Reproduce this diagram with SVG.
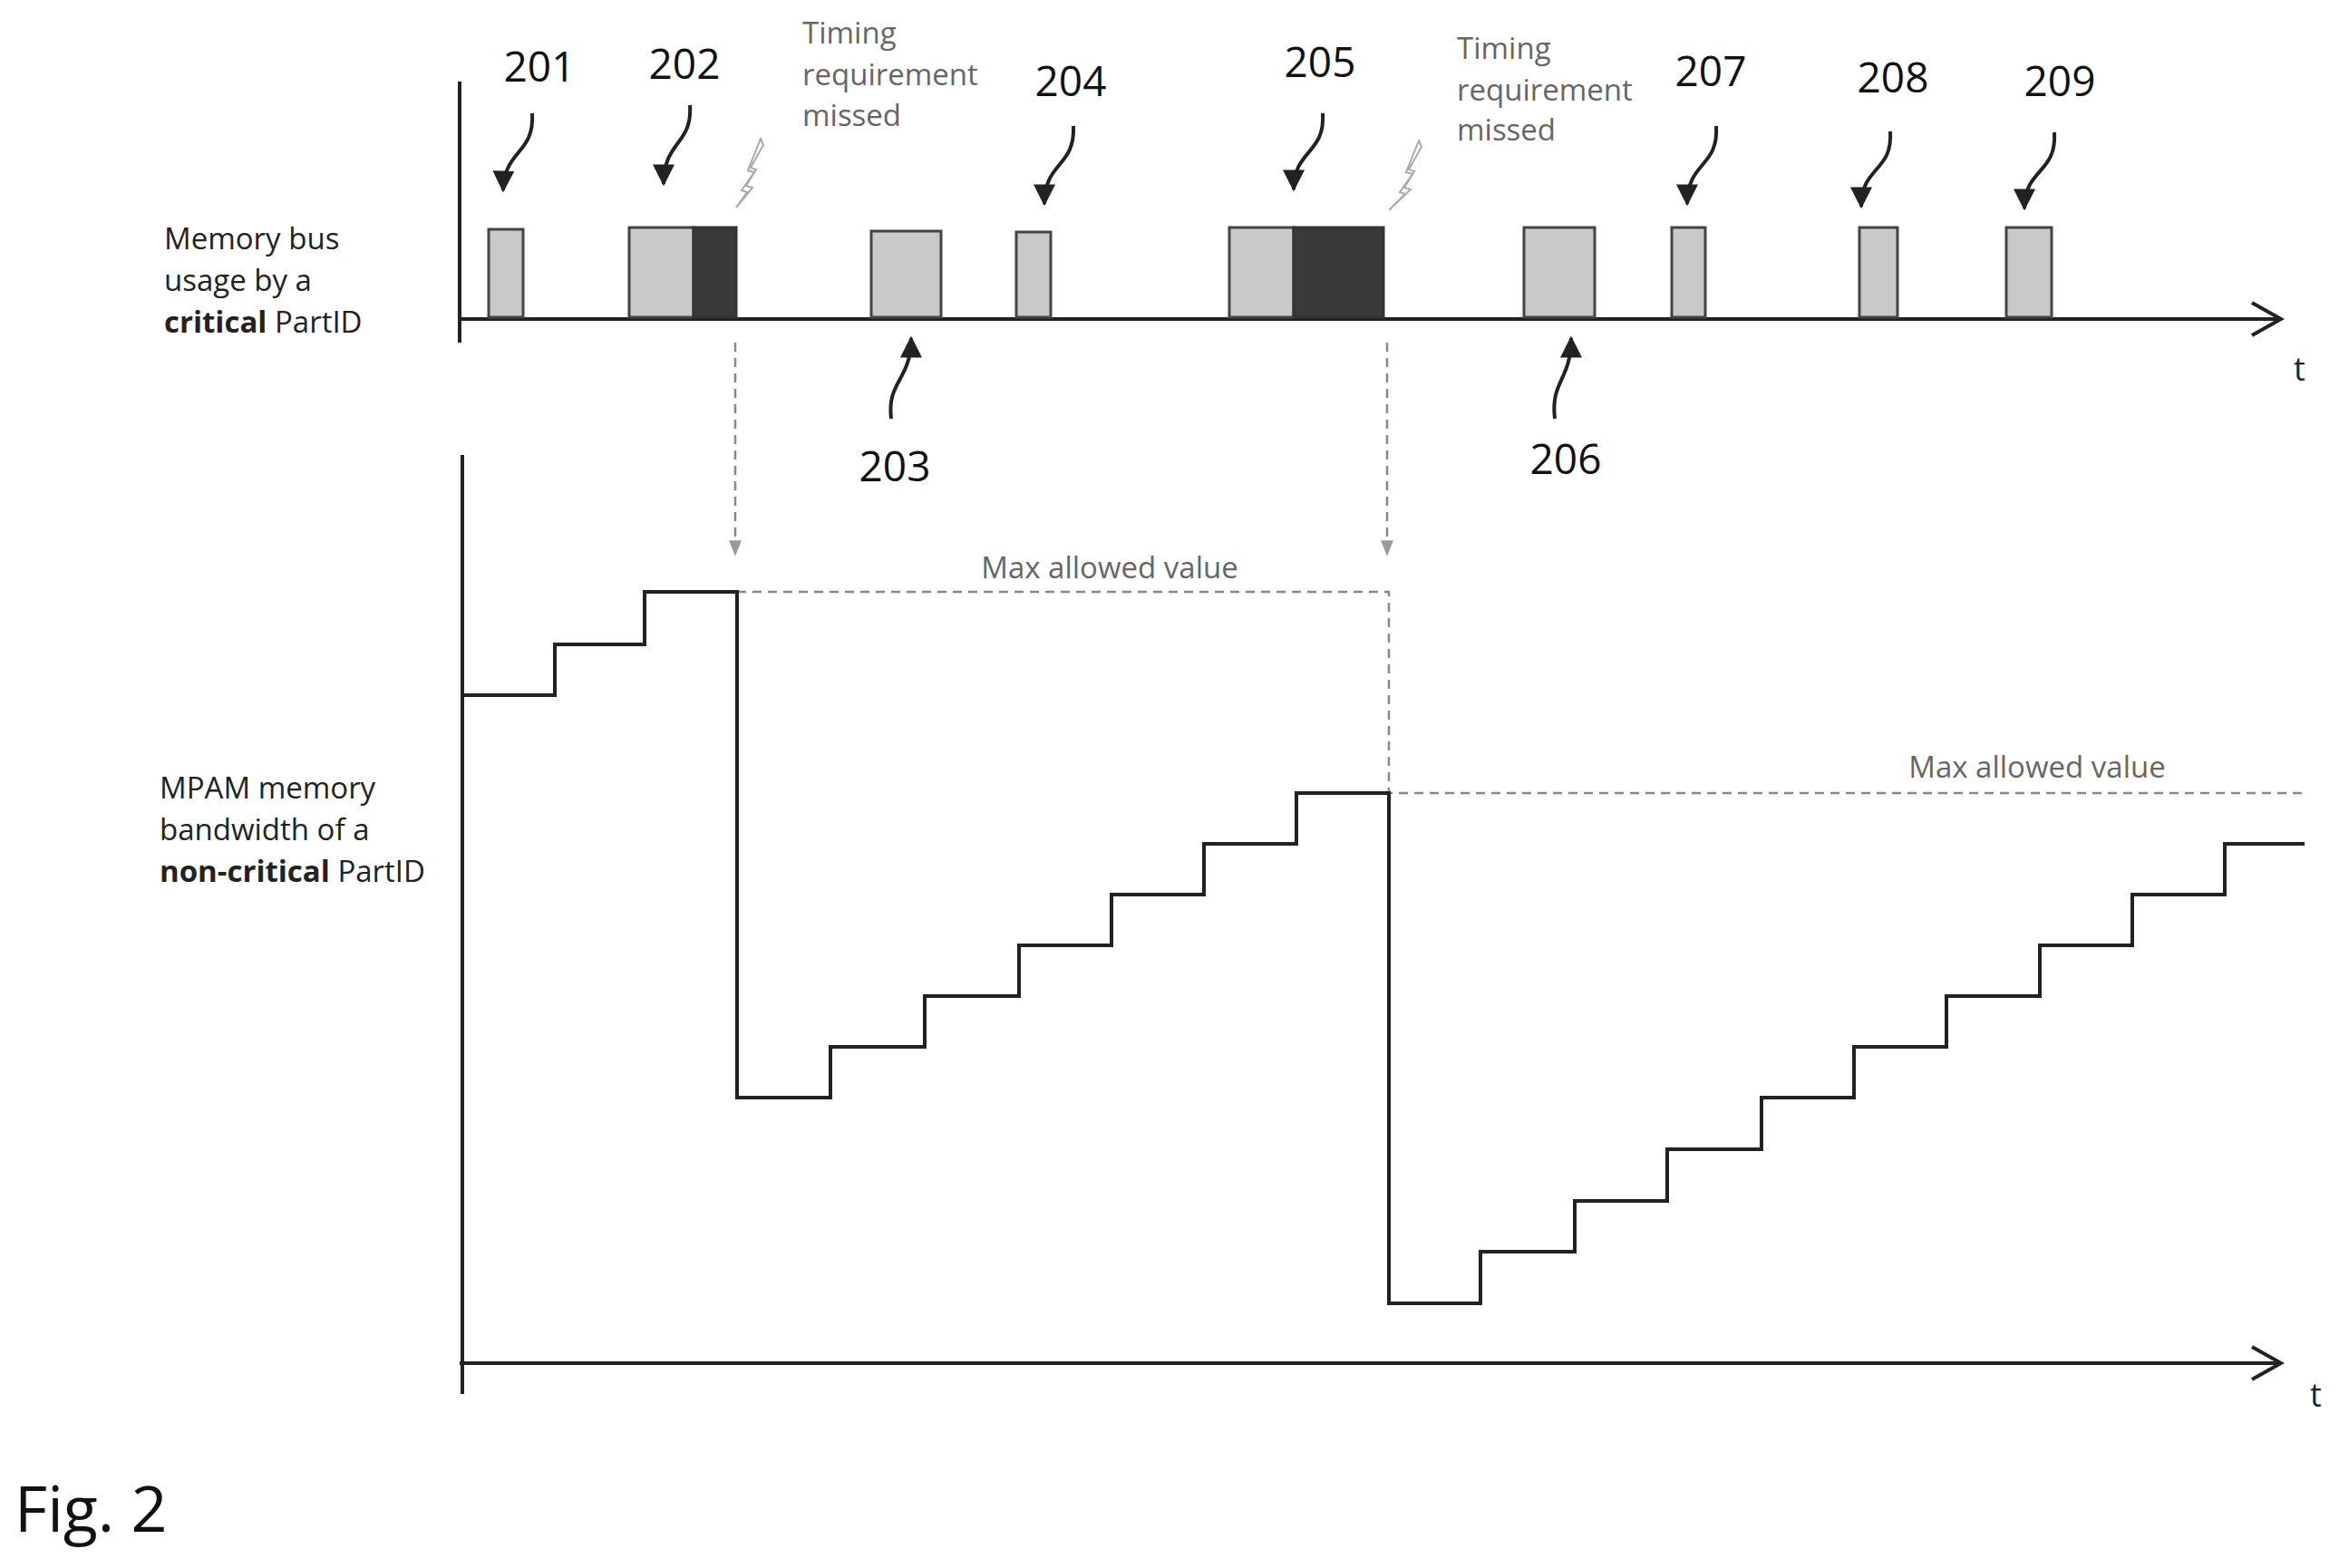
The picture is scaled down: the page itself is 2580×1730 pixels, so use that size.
<svg xmlns="http://www.w3.org/2000/svg" width="2580" height="1730" viewBox="0 0 2580 1730">
<style>
text{font-family:"Open Sans","Liberation Sans",sans-serif}
.num{font-size:46px;fill:#111;text-anchor:middle}
.lbl{font-size:33px;fill:#222}
.gray{font-size:33px;fill:#666}
.ax{stroke:#222;stroke-width:4;fill:none}
.lt{fill:#c9c9c9;stroke:#444;stroke-width:3}
.dk{fill:#3a3a3a;stroke:#333;stroke-width:3}
.cv{stroke:#222;stroke-width:4;fill:none;marker-end:url(#ah)}
.dash{stroke:#888;stroke-width:2.5;fill:none;stroke-dasharray:10 7}
.bolt{fill:#fff;stroke:#aaa;stroke-width:2}
</style>
<defs>
<marker id="ah" viewBox="0 0 10 10" refX="9" refY="5" markerWidth="6" markerHeight="6" orient="auto" markerUnits="strokeWidth"><path d="M0,0 L10,5 L0,10 z" fill="#222"/></marker>
<marker id="ga" viewBox="0 0 10 10" refX="9" refY="5" markerWidth="7" markerHeight="7" orient="auto" markerUnits="strokeWidth"><path d="M0,1 L10,5 L0,9 z" fill="#999"/></marker>
</defs>
<g id="axes">
<path class="ax" d="M507,90 V378 M507,352 H2516 M2484,334 L2516,352 L2484,370"/>
<path class="ax" d="M510,502 V1538 M507,1504 H2516 M2484,1486 L2516,1504 L2484,1522"/>
<text class="lbl" x="2530" y="420" style="font-size:36px">t</text>
<text class="lbl" x="2548" y="1552" style="font-size:36px">t</text>
</g>
<g id="labels">
<text class="lbl" x="181" y="275">Memory bus</text>
<text class="lbl" x="181" y="321">usage by a</text>
<text class="lbl" x="181" y="367"><tspan font-weight="bold">critical</tspan> PartID</text>
<text class="lbl" x="176" y="881">MPAM memory</text>
<text class="lbl" x="176" y="927">bandwidth  of a</text>
<text class="lbl" x="176" y="973"><tspan font-weight="bold">non-critical</tspan> PartID</text>
<text x="16" y="1690" style="font-size:70px;fill:#111">Fig. 2</text>
</g>
<g id="bars">
<rect id="b201" class="lt" x="539" y="253" width="38" height="97"/>
<g id="b202"><rect class="lt" x="694" y="251" width="71" height="99"/><rect class="dk" x="765" y="251" width="47" height="99"/></g>
<rect id="b203" class="lt" x="961" y="255" width="77" height="95"/>
<rect id="b204" class="lt" x="1121" y="256" width="38" height="94"/>
<g id="b205"><rect class="lt" x="1356" y="251" width="71" height="99"/><rect class="dk" x="1427" y="251" width="99" height="99"/></g>
<rect id="b206" class="lt" x="1681" y="251" width="78" height="99"/>
<rect id="b207" class="lt" x="1844" y="251" width="37" height="99"/>
<rect id="b208" class="lt" x="2051" y="251" width="42" height="99"/>
<rect id="b209" class="lt" x="2213" y="251" width="50" height="99"/>
</g>
<g id="numbers">
<text class="num" x="595" y="90">201</text>
<text class="num" x="755" y="87">202</text>
<text class="num" x="1181" y="106">204</text>
<text class="num" x="1456" y="85">205</text>
<text class="num" x="1887" y="95">207</text>
<text class="num" x="2088" y="102">208</text>
<text class="num" x="2272" y="106">209</text>
<text class="num" x="987" y="531">203</text>
<text class="num" x="1727" y="523">206</text>
</g>
<g id="timing">
<text class="gray" x="885" y="48">Timing</text>
<text class="gray" x="885" y="94">requirement</text>
<text class="gray" x="885" y="139">missed</text>
<text class="gray" x="1607" y="65">Timing</text>
<text class="gray" x="1607" y="111">requirement</text>
<text class="gray" x="1607" y="155">missed</text>
<polygon class="bolt" d="" points="839,153 825,188 832,190 818,210 824,212 812,229 830,207 823,205 834,187 828,185 842,160"/>
<polygon class="bolt" points="1565,155 1551,190 1558,192 1544,212 1550,214 1532,232 1556,209 1549,207 1560,189 1554,187 1568,162"/>
</g>
<g id="connectors">
<path class="cv" d="M587,125 C590,170 556,165 555,210"/>
<path class="cv" d="M761,116 C764,160 732,155 732,203"/>
<path class="cv" d="M1184,139 C1186,185 1152,178 1152,225"/>
<path class="cv" d="M1459,125 C1462,170 1427,165 1427,209"/>
<path class="cv" d="M1893,139 C1896,185 1861,178 1861,225"/>
<path class="cv" d="M2085,145 C2088,190 2053,183 2053,228"/>
<path class="cv" d="M2266,146 C2269,192 2233,185 2233,230"/>
<path class="cv" d="M983,462 C978,420 1005,420 1005,373"/>
<path class="cv" d="M1715,462 C1710,420 1733,420 1733,373"/>
<path class="dash" d="M811,378 V612" marker-end="url(#ga)"/>
<path class="dash" d="M1530,378 V612" marker-end="url(#ga)"/>
</g>
<g id="plot">
<path class="dash" d="M813,653 H1532 V875 H2542"/>
<text class="gray" x="1224" y="638" text-anchor="middle">Max allowed value</text>
<text class="gray" x="2247" y="858" text-anchor="middle">Max allowed value</text>
<path class="ax" d="M510,767 H612 V711 H711 V653 H813 V1211 H916 V1155 H1020 V1099 H1124 V1043 H1226 V987 H1328 V931 H1430 V875 H1532 V1438 H1633 V1381 H1737 V1325 H1839 V1268 H1943 V1211 H2045 V1155 H2147 V1099 H2250 V1043 H2352 V987 H2454 V931 H2542"/>
</g>
</svg>
